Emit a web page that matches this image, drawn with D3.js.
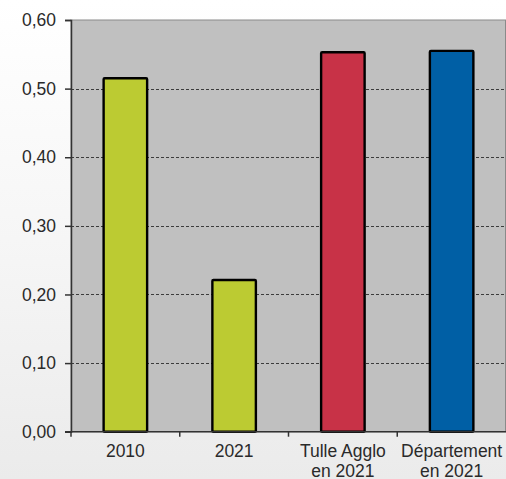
<!DOCTYPE html>
<html>
<head>
<meta charset="utf-8">
<script src="https://cdn.jsdelivr.net/npm/d3@7"></script>
<style>
  html, body { margin: 0; padding: 0; }
  body { width: 506px; height: 479px; overflow: hidden; background: linear-gradient(to bottom, #ffffff 0%, #f6f6f6 50%, #ebebeb 100%); }
  svg { display: block; }
  text { font-family: "Liberation Sans", Arial, sans-serif; fill: #2a2a2a; }
</style>
</head>
<body>
<svg id="chart" width="506" height="479"></svg>
<script>
const categories = [["2010"], ["2021"], ["Tulle Agglo", "en 2021"], ["Département", "en 2021"]];
const values = [0.515, 0.221, 0.553, 0.555];
const barColors = ["#bccb32", "#bccb32", "#c83247", "#005fa5"];
const yTicks = [0, 0.1, 0.2, 0.3, 0.4, 0.5, 0.6];

const svg = d3.select("#chart");
const margin = { left: 71, right: 0, top: 20, bottom: 47 };
const W = 506, H = 479;
const x = d3.scaleBand().domain(d3.range(categories.length))
  .range([margin.left, W - margin.right]).paddingInner(0.6).paddingOuter(0.3);
const y = d3.scaleLinear().domain([0, 0.6]).range([431.7, margin.top]);

const fmt = v => d3.format(".2f")(v).replace(".", ",");

// plot background
svg.append("rect")
  .attr("x", margin.left).attr("y", y(0.6))
  .attr("width", W - margin.right - margin.left - 0.5).attr("height", y(0) - y(0.6))
  .attr("fill", "#c0c0c0").attr("stroke", "#8a8a8a").attr("stroke-width", 1);

// gridlines
svg.append("g").selectAll("line").data(yTicks.filter(t => t > 0 && t < 0.6)).join("line")
  .attr("x1", margin.left).attr("x2", W - margin.right)
  .attr("y1", d => Math.round(y(d)) + 0.5).attr("y2", d => Math.round(y(d)) + 0.5)
  .attr("stroke", "#3c3c3c").attr("stroke-width", 1).attr("stroke-dasharray", "3,2");

// bars
svg.append("g").selectAll("rect").data(values).join("rect")
  .attr("x", (d, i) => x(i)).attr("width", x.bandwidth())
  .attr("y", d => y(d)).attr("height", d => y(0) - y(d))
  .attr("fill", (d, i) => barColors[i])
  .attr("stroke", "#000").attr("stroke-width", 2.4).attr("rx", 1);

// y axis
const yAxis = d3.axisLeft(y).tickValues(yTicks).tickFormat(fmt).tickSize(6).tickPadding(9);
const gy = svg.append("g").attr("transform", `translate(${margin.left},0)`).call(yAxis);
gy.select(".domain").attr("stroke", "#333").attr("stroke-width", 1.5);
gy.selectAll(".tick line").attr("stroke", "#333").attr("stroke-width", 1.5);
gy.selectAll(".tick text").attr("font-size", 17.5).attr("font-family", null).style("fill", "#2a2a2a");

// x axis baseline
svg.append("line").attr("x1", margin.left - 6).attr("x2", W - margin.right)
  .attr("y1", y(0)).attr("y2", y(0)).attr("stroke", "#333").attr("stroke-width", 1.5);

// x ticks at band boundaries
const bounds = d3.range(categories.length + 1).map(i => margin.left + i * x.step()).filter(b => b < W - 1);
svg.append("g").selectAll("line").data(bounds).join("line")
  .attr("x1", d => d).attr("x2", d => d)
  .attr("y1", y(0)).attr("y2", y(0) + 5)
  .attr("stroke", "#333").attr("stroke-width", 1.5);

// x labels
const xl = svg.append("g").selectAll("text").data(categories).join("text")
  .attr("text-anchor", "middle").attr("font-size", 17.5)
  .attr("transform", (d, i) => `translate(${x(i) + x.bandwidth() / 2},457)`);
xl.selectAll("tspan").data(d => d).join("tspan")
  .attr("x", 0).attr("dy", (d, j) => j === 0 ? 0 : 19.5).text(d => d);
</script>
</body>
</html>
